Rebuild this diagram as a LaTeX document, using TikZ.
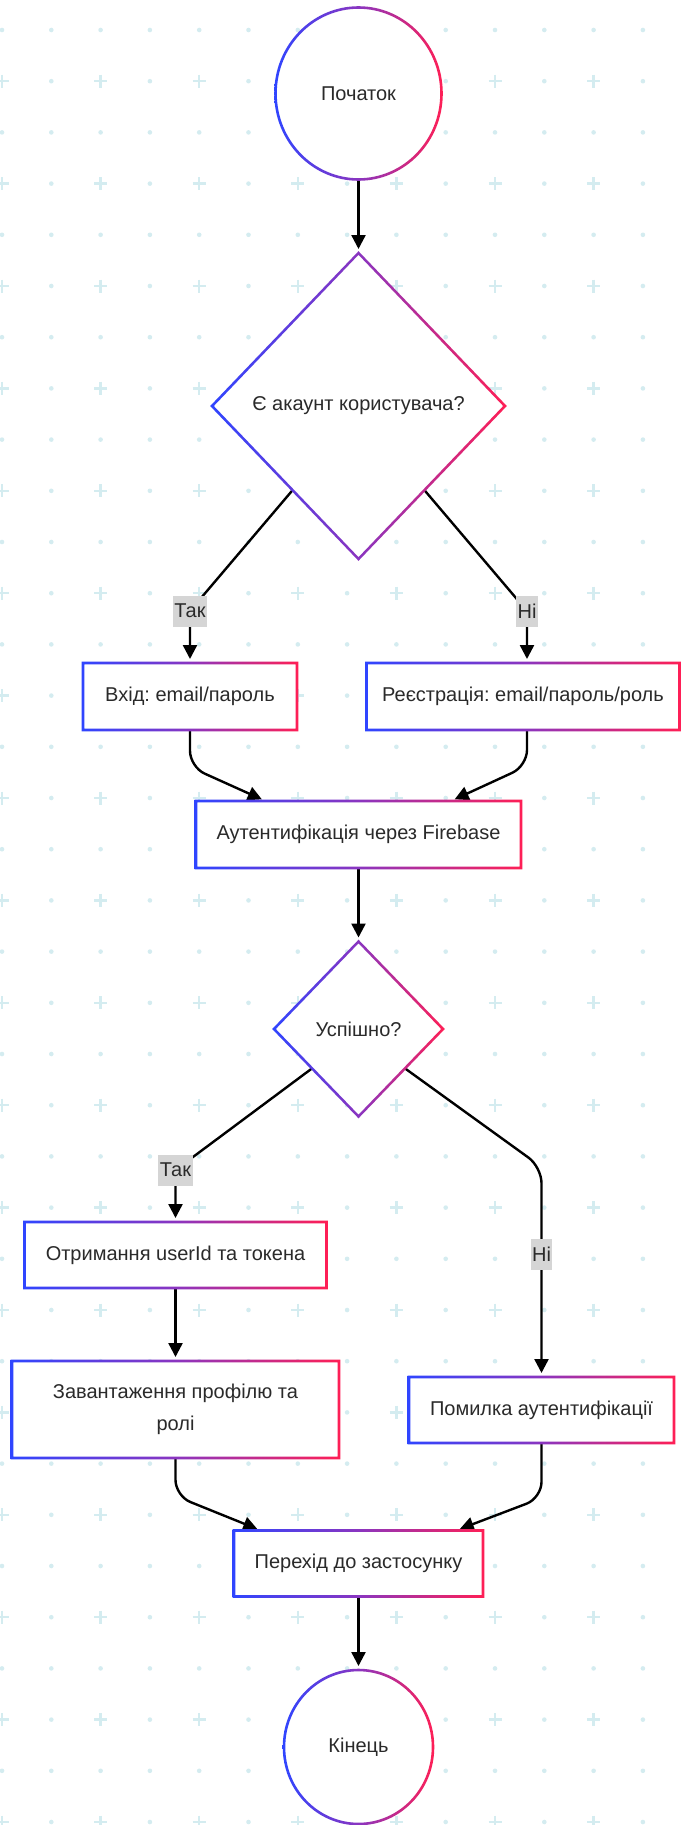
\documentclass[tikz,border=0pt]{standalone}
\usepackage{fontspec}
\setmainfont{Liberation Sans}
\usetikzlibrary{shapes.geometric,arrows.meta,calc}
\frenchspacing

\definecolor{cblue}{HTML}{2F45FF}
\definecolor{cred}{HTML}{FF1F55}
\definecolor{cpurple}{HTML}{8A35C0}
\definecolor{gridc}{HTML}{D4ECF0}
\definecolor{txt}{HTML}{2A2A2A}
\definecolor{lblbg}{HTML}{D5D5D5}

\pgfdeclarelayer{grid}
\pgfdeclarelayer{edges}
\pgfsetlayers{grid,edges,main}

\tikzset{
  base/.style={fill=white, inner sep=0pt, outer sep=0pt, text=txt,
    font=\fontsize{20}{32}\selectfont, align=center},
  procbox/.style={base, rectangle},
  roundnode/.style={base, ellipse},
  choice/.style={base, diamond, aspect=1},
  grad/.style={left color=cblue, right color=cred, middle color=cpurple, even odd rule},
  flow/.style={draw=black, line width=2.4pt, -{Triangle[length=14pt,width=14pt]},
    shorten >=4pt, rounded corners=16pt},
  lbl/.style={fill=lblbg, text=txt, font=\fontsize{20}{32}\selectfont,
    inner xsep=1.5pt, inner ysep=0pt, minimum height=31pt, outer sep=0pt},
  gdot/.style={fill=gridc},
  gplus/.style={draw=gridc, line width=2.4pt},
}

% gradient outlines drawn as rings around the white node shapes
\newcommand\ringbox[1]{%
  \shade[grad] ($(#1.north west)+(-1.3,-1.3)$) rectangle ($(#1.south east)+(1.3,1.3)$)
               ($(#1.north west)+(1.3,1.3)$) rectangle ($(#1.south east)+(-1.3,-1.3)$);}
\newcommand\ringoval[3]{%
  \shade[grad] (#1.center) ellipse [x radius=#2+1.3, y radius=#3+1.3]
               (#1.center) ellipse [x radius=#2-1.3, y radius=#3-1.3];}
\newcommand\ringrhomb[1]{%
  \shade[grad] ($(#1.north)+(0,-1.8)$) -- ($(#1.east)+(1.8,0)$) -- ($(#1.south)+(0,1.8)$) -- ($(#1.west)+(-1.8,0)$) -- cycle
               ($(#1.north)+(0,1.8)$) -- ($(#1.east)+(-1.8,0)$) -- ($(#1.south)+(0,-1.8)$) -- ($(#1.west)+(1.8,0)$) -- cycle;}

\begin{document}
\begin{tikzpicture}[x=1pt, y=-1pt]
\useasboundingbox (0,0) rectangle (680,1825);

% dotted / crossed background grid
\begin{pgfonlayer}{grid}
  \fill[white] (0,0) rectangle (680,1825);
  \foreach \n in {0,2,...,34} {
    \foreach \m in {0,...,13} {
      \fill[gdot] ({2+49.3*\m},{30+51.2*\n}) circle (2.3);
    }
  }
  \foreach \n in {1,3,...,35} {
    \foreach \m in {1,3,...,13} {
      \fill[gdot] ({2+49.3*\m},{30+51.2*\n}) circle (2.3);
    }
    \foreach \m in {0,2,...,12} {
      \draw[gplus] ({2+49.3*\m-6.5},{30+51.2*\n}) -- ({2+49.3*\m+6.5},{30+51.2*\n})
                   ({2+49.3*\m},{30+51.2*\n-6.5}) -- ({2+49.3*\m},{30+51.2*\n+6.5});
    }
  }
\end{pgfonlayer}

% nodes
\node[roundnode, minimum width=166, minimum height=172] (start) at (358.5,93.5) {Початок};
\node[choice, minimum width=293, minimum height=306] (d1) at (358.5,406) {Є акаунт користувача?};
\node[procbox, minimum width=214, minimum height=67] (vhid) at (190,696.5) {Вхід: email/пароль};
\node[procbox, minimum width=313, minimum height=67] (reg) at (523,696.5) {Реєстрація: email/пароль/роль};
\node[procbox, minimum width=325, minimum height=67] (auth) at (358.5,834.5) {Аутентифікація через Firebase};
\node[choice, minimum width=169, minimum height=175] (d2) at (358.5,1029) {Успішно?};
\node[procbox, minimum width=302, minimum height=66] (otr) at (175.5,1255) {Отримання userId та токена};
\node[procbox, minimum width=327, minimum height=97] (zav) at (175.5,1409.5) {Завантаження профілю та\\ролі};
\node[procbox, minimum width=265, minimum height=66] (pom) at (541.5,1410) {Помилка аутентифікації};
\node[procbox, minimum width=249, minimum height=66] (per) at (358.5,1563.5) {Перехід до застосунку};
\node[roundnode, minimum width=149, minimum height=154] (fin) at (358.5,1747) {Кінець};

\ringoval{start}{83}{86}
\ringrhomb{d1}
\ringbox{vhid}
\ringbox{reg}
\ringbox{auth}
\ringrhomb{d2}
\ringbox{otr}
\ringbox{zav}
\ringbox{pom}
\ringbox{per}
\ringoval{fin}{74.5}{77}

% edge labels
\node[lbl] (t1) at (190,611) {Так};
\node[lbl] (n1) at (527,611) {Ні};
\node[lbl] (t2) at (175.5,1170) {Так};
\node[lbl] (n2) at (541.5,1254) {Ні};
\coordinate (k2) at (541.5,1167);

% connectors
\begin{pgfonlayer}{edges}
  \draw[flow] (start.south) -- (d1.north);
  \draw[flow] ($(d1.west)!0.55!(d1.south)$) -- (t1.center) -- (t1.center |- vhid.north);
  \draw[flow] ($(d1.east)!0.55!(d1.south)$) -- (n1.center) -- (n1.center |- reg.north);
  \draw[flow] (vhid.south) -- ++(0,37) -- ($(auth.north)+(-93,0)$);
  \draw[flow] (n1.center |- reg.south) -- ++(0,36) -- ($(auth.north)+(92.5,0)$);
  \draw[flow] (auth.south) -- (d2.north);
  \draw[flow] ($(d2.west)!0.45!(d2.south)$) -- (t2.center) -- (t2.center |- otr.north);
  \draw[flow] ($(d2.east)!0.45!(d2.south)$) -- (k2) -- (pom.north);
  \draw[flow] (otr.south) -- (zav.north);
  \draw[flow] (zav.south) -- ++(0,38) -- ($(per.north)+(-97.5,0)$);
  \draw[flow] (pom.south) -- ++(0,55) -- ($(per.north)+(97.5,0)$);
  \draw[flow] (per.south) -- (fin.north);
\end{pgfonlayer}
\end{tikzpicture}
\end{document}
